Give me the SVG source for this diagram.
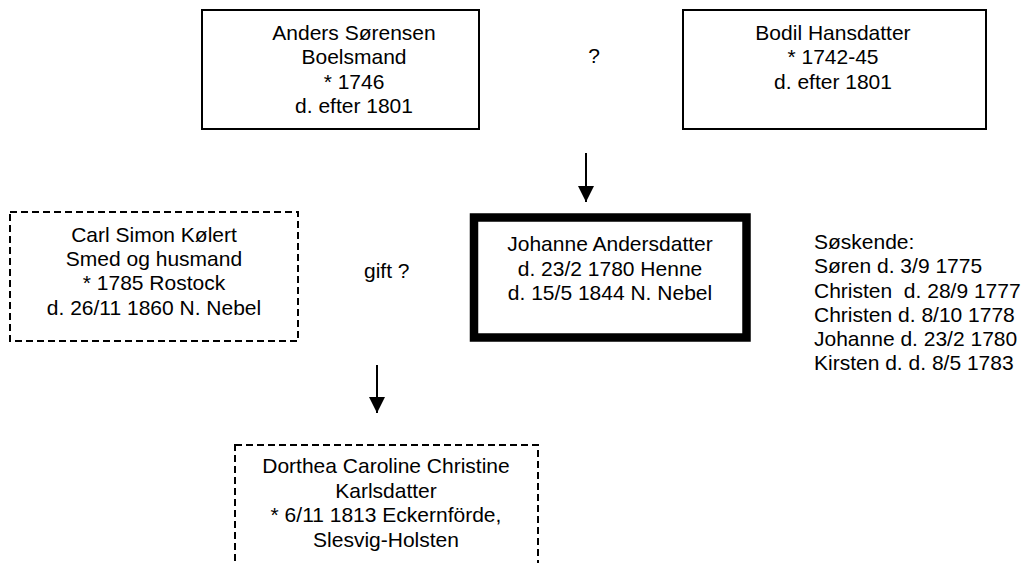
<svg xmlns="http://www.w3.org/2000/svg" width="1024" height="563" viewBox="0 0 1024 563">
<style>
text{font-family:"Liberation Sans",Arial,sans-serif;font-size:21px;fill:#000}
.c{text-anchor:middle}
.box{fill:#fff;stroke:#000;stroke-width:2}
.dash{fill:#fff;stroke:#000;stroke-width:2;stroke-dasharray:7,4}
.thick{fill:#fff;stroke:#000;stroke-width:8.5}
.conn{stroke:#000;stroke-width:2;fill:none}
</style>
<defs>
<marker id="ah" markerWidth="16" markerHeight="16" refX="16" refY="8" orient="auto" markerUnits="userSpaceOnUse" viewBox="0 0 16 16">
<path d="M0,0 L16,8 L0,16 Z" fill="#000"/>
</marker>
</defs>
<g id="anders">
<rect class="box" x="202" y="10" width="277" height="119"/>
<text class="c" x="354" y="40">Anders Sørensen</text>
<text class="c" x="354" y="64">Boelsmand</text>
<text class="c" x="354" y="89">* 1746</text>
<text class="c" x="354" y="113">d. efter 1801</text>
</g>
<g id="bodil">
<rect class="box" x="683" y="10" width="303" height="119"/>
<text class="c" x="833" y="40">Bodil Hansdatter</text>
<text class="c" x="833" y="64">* 1742-45</text>
<text class="c" x="833" y="89">d. efter 1801</text>
</g>
<g id="q">
<text class="c" x="594" y="63">?</text>
</g>
<g id="johanne">
<rect class="thick" x="474" y="217.5" width="272.5" height="120"/>
<text class="c" x="610" y="251">Johanne Andersdatter</text>
<text class="c" x="610" y="276">d. 23/2 1780 Henne</text>
<text class="c" x="610" y="300">d. 15/5 1844 N. Nebel</text>
</g>
<g id="carl">
<rect class="dash" x="10" y="212" width="288" height="129"/>
<text class="c" x="154" y="242">Carl Simon Kølert</text>
<text class="c" x="154" y="266">Smed og husmand</text>
<text class="c" x="154" y="290">* 1785 Rostock</text>
<text class="c" x="154" y="315">d. 26/11 1860 N. Nebel</text>
</g>
<g id="gift">
<text x="364" y="278">gift ?</text>
</g>
<g id="soskende">
<text x="814" y="249">Søskende:</text>
<text x="814" y="273">Søren d. 3/9 1775</text>
<text x="814" y="298" xml:space="preserve">Christen  d. 28/9 1777</text>
<text x="814" y="322">Christen d. 8/10 1778</text>
<text x="814" y="346">Johanne d. 23/2 1780</text>
<text x="814" y="370">Kirsten d. d. 8/5 1783</text>
</g>
<g id="dorthea">
<rect class="dash" x="235" y="445" width="303" height="140"/>
<text class="c" x="386" y="473">Dorthea Caroline Christine</text>
<text class="c" x="386" y="498">Karlsdatter</text>
<text class="c" x="386" y="522">* 6/11 1813 Eckernförde,</text>
<text class="c" x="386" y="547">Slesvig-Holsten</text>
</g>
<g id="connectors">
<line class="conn" x1="586" y1="153" x2="586" y2="202" marker-end="url(#ah)"/>
<line class="conn" x1="377" y1="365" x2="377" y2="413" marker-end="url(#ah)"/>
</g>
</svg>
